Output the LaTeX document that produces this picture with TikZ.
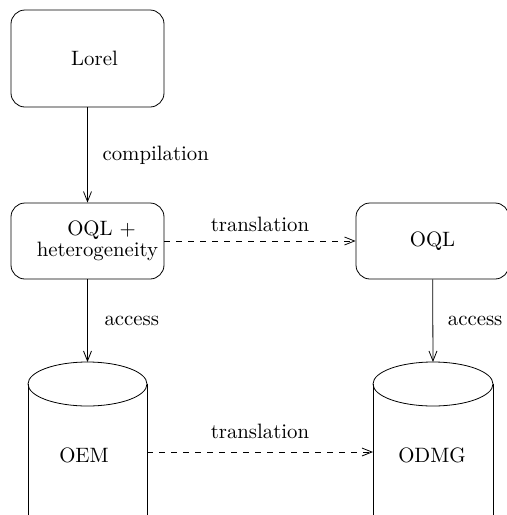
\documentclass[tikz,border=0pt]{standalone}
\usetikzlibrary{arrows.meta}

\begin{document}
\begin{tikzpicture}[x=0.5pt,y=-0.5pt,
    font=\fontsize{10.4}{11.8}\selectfont,
    box/.style={draw,rounded corners=7pt,minimum width=76.5pt,align=center,inner sep=0pt},
    flow/.style={-{Straight Barb[length=5pt,width=4pt]}},
    trans/.style={flow,dashed}]
  \useasboundingbox (0,0) rectangle (507,515);

  \node [box,minimum height=48.5pt] (lorel) at (87.5,58.5) {\hspace*{7pt}Lorel};
  \node [box,minimum height=38pt] (oqlh) at (87.5,241) {\hspace*{14pt}OQL +\\[-1pt]\hspace*{10pt}heterogeneity};
  \node [box,minimum height=38pt] (oql) at (432.5,241) {OQL};

  % cylinders, open at the bottom
  \coordinate (oemtop) at (87.5,362);
  \coordinate (odmgtop) at (433,362);
  \draw (87.5,384) ellipse [x radius=59.5,y radius=22];
  \draw (28,384) -- (28,530) (147,384) -- (147,530);
  \draw (433,384) ellipse [x radius=60,y radius=22];
  \draw (373,384) -- (373,530) (493,384) -- (493,530);
  \node (oem) at (84,455) {OEM};
  \node (odmg) at (432,455) {ODMG};
  \coordinate (oemside) at (147,452);
  \coordinate (odmgside) at (373,452);

  \draw [flow] (lorel) -- node [right=4pt] {compilation} (oqlh);
  \draw [flow] (oqlh) -- node [right=5pt] {access} (oemtop);
  \draw [flow] (oql) -- node [right=4pt] {access} (odmgtop);
  \draw [trans] (oqlh) -- node [above=1pt] {translation} (oql);
  \draw [trans] (oemside) -- node [above=3pt] {translation} (odmgside);
\end{tikzpicture}
\end{document}
